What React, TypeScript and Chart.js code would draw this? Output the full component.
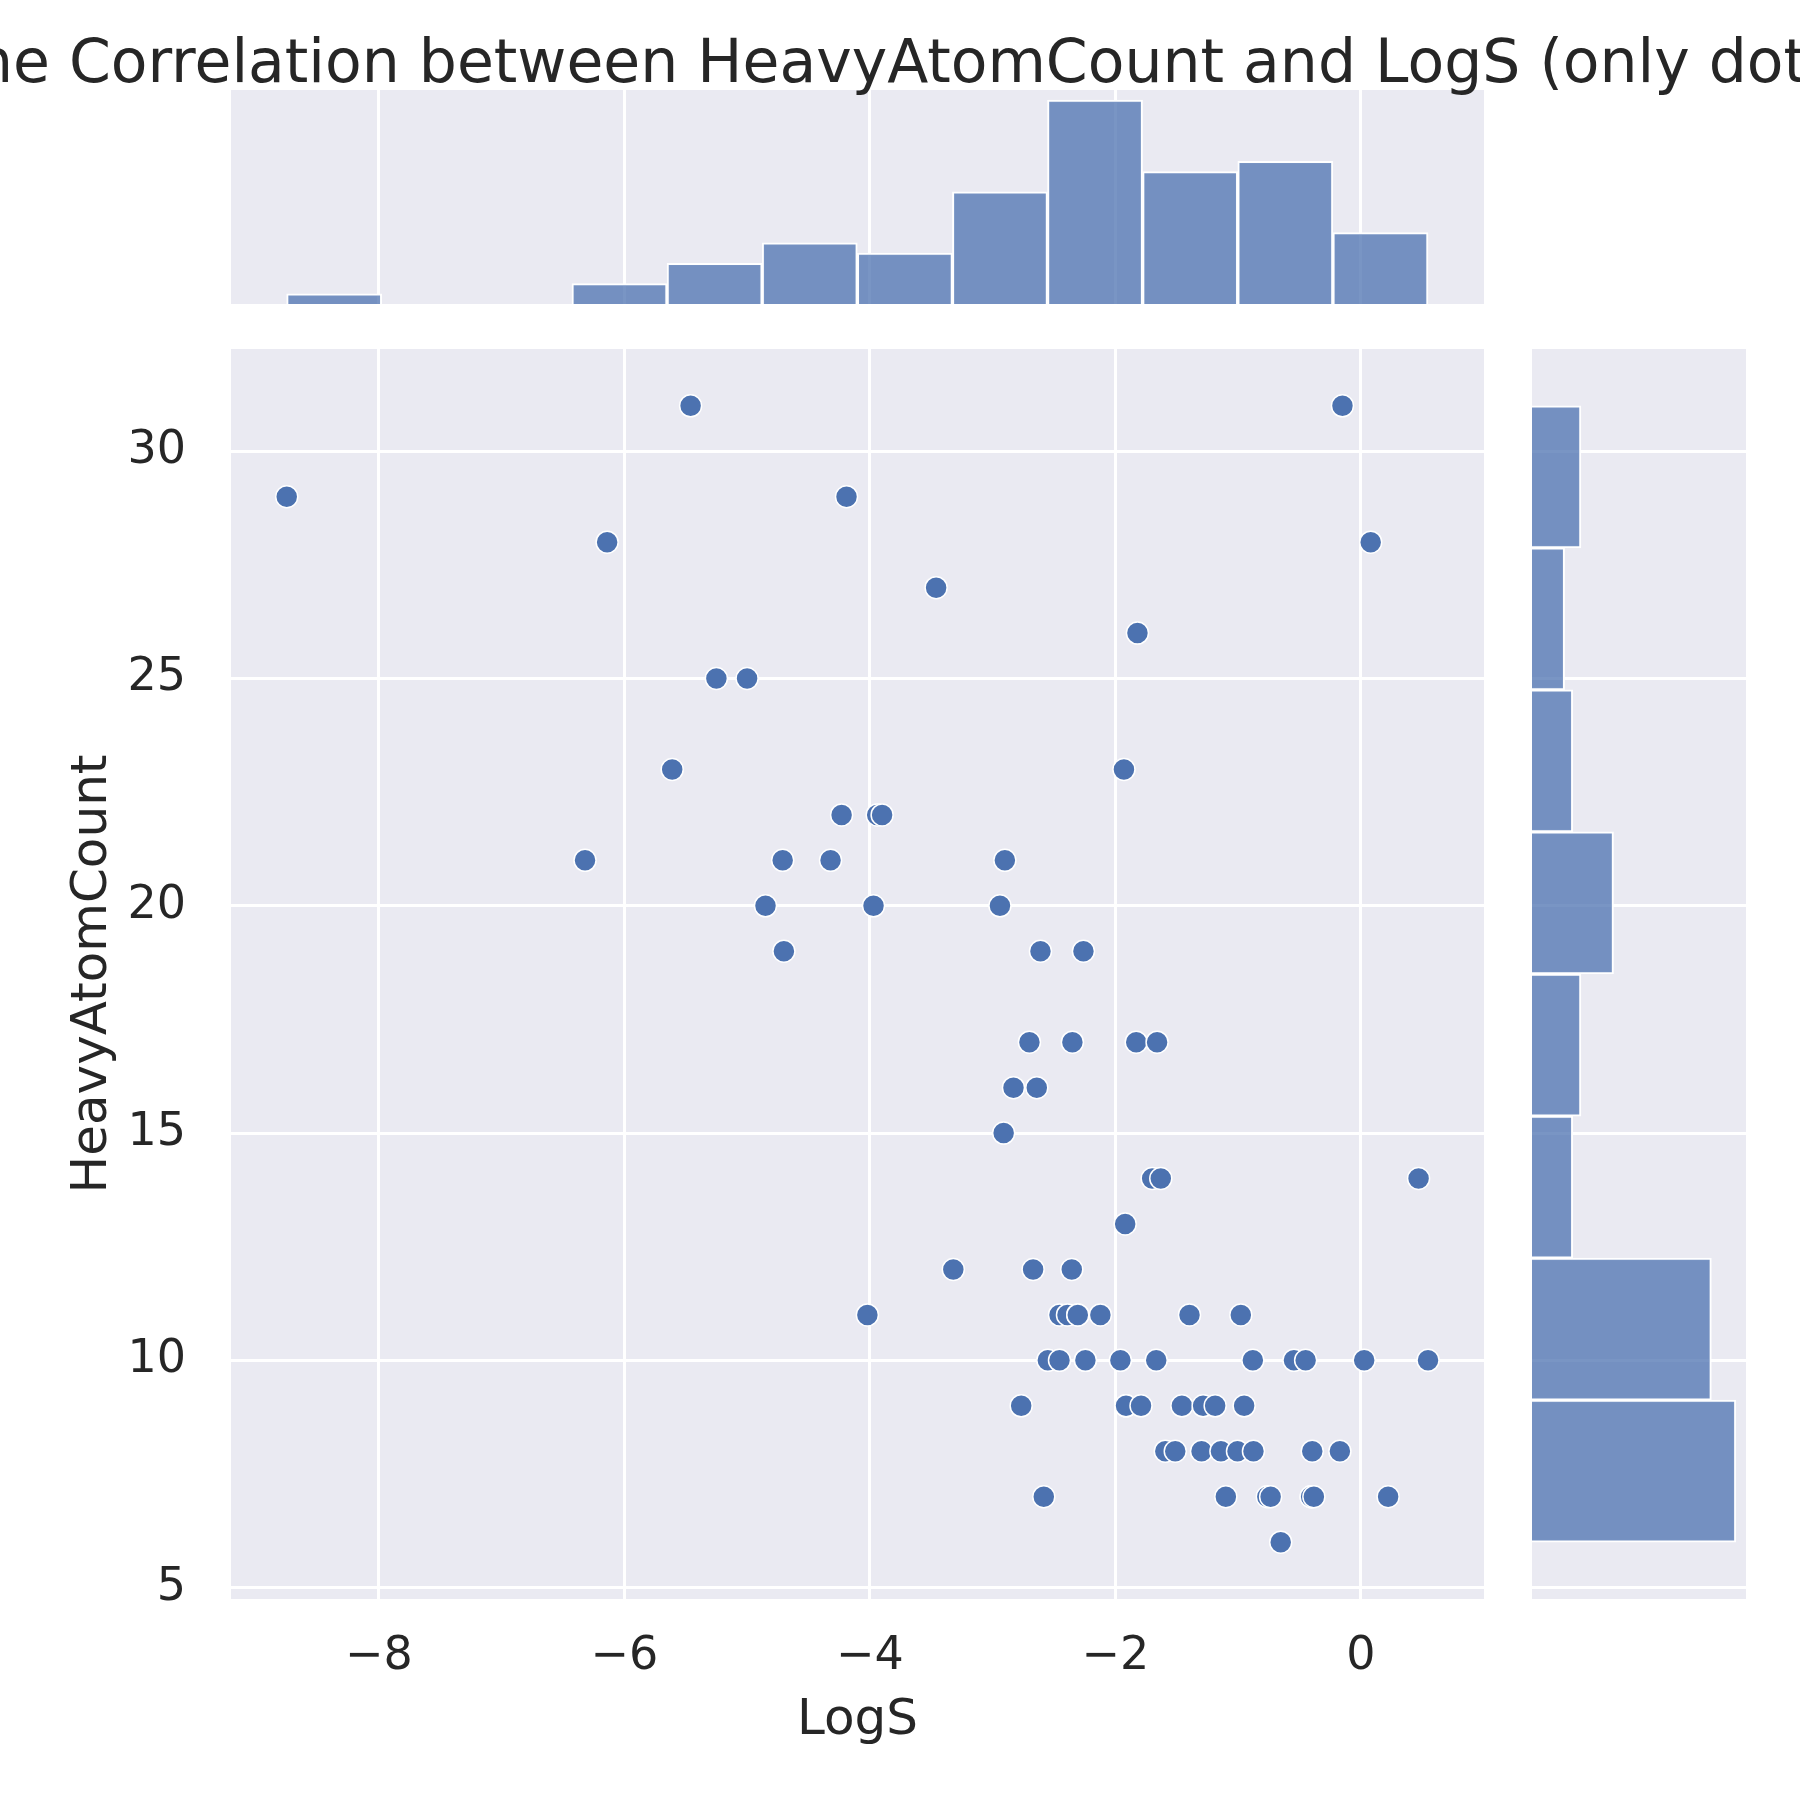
import React, { useEffect, useRef } from 'react';
import { Chart, Plugin, registerables } from 'chart.js';

// Register everything we use (scatter + bar controllers, linear scales)
Chart.register(...registerables);

const TITLE = 'The Correlation between HeavyAtomCount and LogS (only dots)';
const X_LABEL = 'LogS';
const Y_LABEL = 'HeavyAtomCount';

// scatter points (a few exact duplicates are hidden under others)
const logS = [
  -5.46, -0.15,
  -8.75, -4.19,
  -6.14, 0.08,
  -3.46,
  -1.82,
  -5.25, -5.0,
  -5.61, -1.93,
  -4.23, -3.94, -3.9,
  -6.32, -4.71, -4.32, -2.9,
  -4.85, -3.97, -2.94,
  -4.7, -2.61, -2.26,
  -2.7, -2.35, -1.83, -1.66,
  -2.83, -2.64,
  -2.91,
  -1.70, -1.63, 0.47,
  -1.92,
  -3.32, -2.67, -2.355,
  -4.02, -2.455, -2.39, -2.306, -2.306, -2.122, -1.396, -0.978,
  -2.55, -2.455, -2.244, -2.244, -1.959, -1.667, -0.88, -0.545, -0.45, 0.027, 0.547,
  -2.767, -1.913, -1.913, -1.791, -1.458, -1.285, -1.187, -0.951,
  -1.593, -1.512, -1.298, -1.14, -1.005, -0.875, -0.396, -0.171,
  -2.583, -1.1, -0.762, -0.735, -0.405, -0.405, -0.383, 0.222,
  -0.653,
];

const heavyAtomCount = [
  31, 31,
  29, 29,
  28, 28,
  27,
  26,
  25, 25,
  23, 23,
  22, 22, 22,
  21, 21, 21, 21,
  20, 20, 20,
  19, 19, 19,
  17, 17, 17, 17,
  16, 16,
  15,
  14, 14, 14,
  13,
  12, 12, 12,
  11, 11, 11, 11, 11, 11, 11, 11,
  10, 10, 10, 10, 10, 10, 10, 10, 10, 10, 10,
  9, 9, 9, 9, 9, 9, 9, 9,
  8, 8, 8, 8, 8, 8, 8, 8,
  7, 7, 7, 7, 7, 7, 7, 7,
  6,
];

const xTicks = [-8, -6, -4, -2, 0];
const yTicks = [5, 10, 15, 20, 25, 30];

// marginal histograms
const logSBinEdges = [-8.751, -7.976, -7.201, -6.427, -5.652, -4.877, -4.102, -3.327, -2.553, -1.778, -1.003, -0.228, 0.547];
const logSBinCounts = [1, 0, 0, 2, 4, 6, 5, 11, 20, 13, 14, 7];
const hacBinEdges = [6, 9.125, 12.25, 15.375, 18.5, 21.625, 24.75, 27.875, 31];
const hacBinCounts = [25, 22, 5, 6, 10, 5, 4, 6];

const X_MIN = -9.204;
const X_MAX = 1.003;
const Y_MIN = 4.75;
const Y_MAX = 32.25;

const FONT = '"DejaVu Sans", sans-serif';
const TEXT = '#262626';
const PANEL = '#EAEAF2';
const BLUE = '#4C72B0';
const HIST_FILL = 'rgba(76, 114, 176, 0.75)';
const SIZE = 1800;

const fmtTick = (v: number | string) => {
  const n = Number(v);
  return n < 0 ? '\u2212' + Math.abs(n) : String(n);
};

const centers = (edges: number[]) => edges.slice(0, -1).map((e, i) => (e + edges[i + 1]) / 2);

// grey panel behind each axes, like seaborn darkgrid
const panelBg: Plugin = {
  id: 'panelBg',
  beforeDraw(chart) {
    const { ctx, chartArea: a } = chart;
    ctx.save();
    ctx.fillStyle = PANEL;
    ctx.fillRect(a.left, a.top, a.right - a.left, a.bottom - a.top);
    ctx.restore();
  },
};

// figure title, centred on the whole figure and allowed to run off the edges
const figTitle: Plugin = {
  id: 'figTitle',
  afterDraw(chart) {
    const { ctx } = chart;
    ctx.save();
    ctx.fillStyle = TEXT;
    ctx.font = `60px ${FONT}`;
    ctx.textAlign = 'center';
    ctx.textBaseline = 'alphabetic';
    ctx.fillText(TITLE, SIZE / 2, 82);
    ctx.restore();
  },
};

const gridStyle = { color: '#FFFFFF', lineWidth: 3, drawTicks: false, offset: false };

export default function App() {
  const mainRef = useRef<HTMLCanvasElement>(null);
  const topRef = useRef<HTMLCanvasElement>(null);
  const rightRef = useRef<HTMLCanvasElement>(null);

  useEffect(() => {
    if (!mainRef.current || !topRef.current || !rightRef.current) return;
    document.body.style.margin = '0';

    const common = {
      animation: false as const,
      responsive: false,
      devicePixelRatio: 1,
      events: [] as any[],
      plugins: { legend: { display: false }, tooltip: { enabled: false } },
    };

    const main = new Chart(mainRef.current, {
      type: 'scatter',
      data: {
        datasets: [
          {
            data: logS.map((x, i) => ({ x, y: heavyAtomCount[i] })),
            backgroundColor: BLUE,
            borderColor: '#FFFFFF',
            borderWidth: 1.5,
            pointRadius: 11,
            pointHoverRadius: 11,
          },
        ],
      },
      options: {
        ...common,
        layout: { padding: { left: 0, right: 316, top: 349, bottom: 0 }, autoPadding: false },
        scales: {
          x: {
            type: 'linear',
            position: 'bottom',
            min: X_MIN,
            max: X_MAX,
            afterBuildTicks: (s: any) => {
              s.ticks = xTicks.map(v => ({ value: v }));
            },
            afterFit: (s: any) => {
              s.height = 201;
            },
            grid: gridStyle,
            border: { display: false },
            ticks: { padding: 30, maxRotation: 0, color: TEXT, font: { family: FONT, size: 46 }, callback: fmtTick },
            title: {
              display: true,
              text: X_LABEL,
              color: TEXT,
              font: { family: FONT, size: 50 },
              padding: { top: 0, bottom: 49 },
            },
          },
          y: {
            type: 'linear',
            position: 'left',
            min: Y_MIN,
            max: Y_MAX,
            afterBuildTicks: (s: any) => {
              s.ticks = yTicks.map(v => ({ value: v }));
            },
            afterFit: (s: any) => {
              s.width = 231;
            },
            grid: gridStyle,
            border: { display: false },
            ticks: { padding: 45, color: TEXT, font: { family: FONT, size: 46 }, callback: fmtTick },
            title: {
              display: true,
              text: Y_LABEL,
              color: TEXT,
              font: { family: FONT, size: 50 },
              padding: { top: 63, bottom: 0 },
            },
          },
        },
      },
      plugins: [panelBg],
    });

    const top = new Chart(topRef.current, {
      type: 'bar',
      data: {
        datasets: [
          {
            data: centers(logSBinEdges).map((c, i) => ({ x: c, y: logSBinCounts[i] })),
            backgroundColor: HIST_FILL,
            borderColor: '#FFFFFF',
            borderWidth: 2,
            borderSkipped: 'start',
            barPercentage: 1,
            categoryPercentage: 1,
          },
        ],
      },
      options: {
        ...common,
        layout: { padding: { left: 231, right: 316, top: 90, bottom: 1496 }, autoPadding: false },
        scales: {
          x: {
            type: 'linear',
            min: X_MIN,
            max: X_MAX,
            offset: false,
            afterBuildTicks: (s: any) => {
              s.ticks = xTicks.map(v => ({ value: v }));
            },
            afterFit: (s: any) => {
              s.height = 0;
            },
            grid: gridStyle,
            border: { display: false },
            ticks: { display: false },
          },
          y: { type: 'linear', min: 0, max: 21, display: false },
        },
      },
      plugins: [panelBg, figTitle],
    });

    const right = new Chart(rightRef.current, {
      type: 'bar',
      data: {
        datasets: [
          {
            data: centers(hacBinEdges).map((c, i) => ({ x: hacBinCounts[i], y: c })),
            backgroundColor: HIST_FILL,
            borderColor: '#FFFFFF',
            borderWidth: 2,
            borderSkipped: 'start',
            barPercentage: 1,
            categoryPercentage: 1,
          },
        ],
      },
      options: {
        ...common,
        indexAxis: 'y',
        layout: { padding: { left: 1532, right: 54, top: 349, bottom: 201 }, autoPadding: false },
        scales: {
          y: {
            type: 'linear',
            min: Y_MIN,
            max: Y_MAX,
            offset: false,
            afterBuildTicks: (s: any) => {
              s.ticks = yTicks.map(v => ({ value: v }));
            },
            afterFit: (s: any) => {
              s.width = 0;
            },
            grid: gridStyle,
            border: { display: false },
            ticks: { display: false },
          },
          x: { type: 'linear', min: 0, max: 26.25, display: false },
        },
      },
      plugins: [panelBg],
    });

    return () => {
      main.destroy();
      top.destroy();
      right.destroy();
    };
  }, []);

  const canvasStyle: React.CSSProperties = {
    position: 'absolute',
    left: 0,
    top: 0,
    width: `${SIZE}px`,
    height: `${SIZE}px`,
  };

  return (
    <div style={{ position: 'absolute', left: 0, top: 0, width: SIZE, height: SIZE, background: '#FFFFFF', overflow: 'hidden' }}>
      <canvas ref={topRef} width={SIZE} height={SIZE} style={canvasStyle} />
      <canvas ref={rightRef} width={SIZE} height={SIZE} style={canvasStyle} />
      <canvas ref={mainRef} width={SIZE} height={SIZE} style={canvasStyle} />
    </div>
  );
}
